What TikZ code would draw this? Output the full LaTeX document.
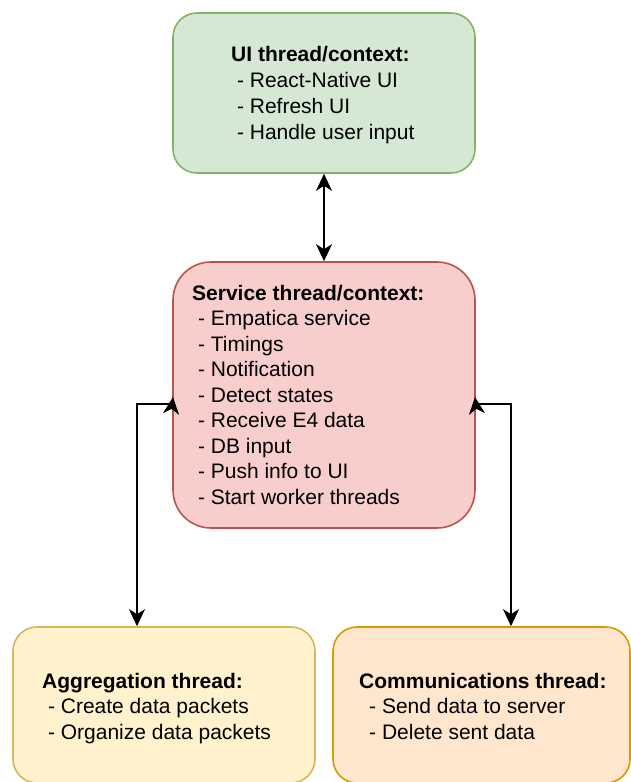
\documentclass[tikz,border=0pt]{standalone}
\usepackage{fontspec}
\setmainfont{Liberation Sans}
\usetikzlibrary{arrows.meta}

% box colours
\definecolor{uifill}{HTML}{D5E8D4}
\definecolor{uiline}{HTML}{82B366}
\definecolor{svcfill}{HTML}{F8CECC}
\definecolor{svcline}{HTML}{B85450}
\definecolor{aggfill}{HTML}{FFF2CC}
\definecolor{aggline}{HTML}{D6B656}
\definecolor{comfill}{HTML}{FFE6CC}
\definecolor{comline}{HTML}{D79B00}

\tikzset{
  threadbox/.style={draw, line width=1.6pt, inner sep=0pt},
  blocktext/.style={anchor=north west, inner sep=0pt, align=left,
    font=\fontsize{21pt}{25.5pt}\selectfont},
  tip/.tip={Stealth[length=17pt,width=16pt,inset=5pt]},
  conn/.style={line width=1.8pt, black},
}

\begin{document}
\begin{tikzpicture}[x=1pt,y=-1pt]
\useasboundingbox (0,0) rectangle (630,782);

% thread boxes
\node[threadbox, draw=uiline, fill=uifill, rounded corners=24pt,
      minimum width=302pt, minimum height=160pt] (ui) at (324,93) {};
\node[threadbox, draw=svcline, fill=svcfill, rounded corners=38pt,
      minimum width=302pt, minimum height=266pt] (svc) at (324,395) {};
\node[threadbox, draw=aggline, fill=aggfill, rounded corners=24pt,
      minimum width=302pt, minimum height=156pt] (agg) at (164,705) {};
\node[threadbox, draw=comline, fill=comfill, rounded corners=24pt,
      minimum width=297pt, minimum height=156pt] (com) at (481.5,705) {};

% box contents
\node[blocktext, font=\fontsize{21pt}{26pt}\selectfont] (uitext) at (231,46)
  {\textbf{UI thread/context:}\\
   \ - React-Native UI\\
   \ - Refresh UI\\
   \ - Handle user input};
\node[blocktext] (svctext) at (192,285)
  {\textbf{Service thread/context:}\\
   \ - Empatica service\\
   \ - Timings\\
   \ - Notification\\
   \ - Detect states\\
   \ - Receive E4 data\\
   \ - DB input\\
   \ - Push info to UI\\
   \ - Start worker threads};
\node[blocktext] (aggtext) at (42,673)
  {\textbf{Aggregation thread:}\\
   \ - Create data packets\\
   \ - Organize data packets};
\node[blocktext] (comtext) at (359,673)
  {\textbf{Communications thread:}\\
   \hspace*{10pt}- Send data to server\\
   \hspace*{10pt}- Delete sent data};

% connectors
\coordinate (lbend) at (137,404);
\coordinate (rbend) at (511,404);
\coordinate (ltip) at (173,397);
\coordinate (rtip) at (475,397);

\draw[conn, {tip}-{tip}] (ui.south) -- (svc.north);
\draw[conn, {tip}-{tip}] (lbend |- agg.north) -- (lbend)
  -- (svc.west |- lbend) -- (ltip);
\draw[conn, {tip}-{tip}] (rbend |- com.north) -- (rbend)
  -- (svc.east |- rbend) -- (rtip);
\end{tikzpicture}
\end{document}
